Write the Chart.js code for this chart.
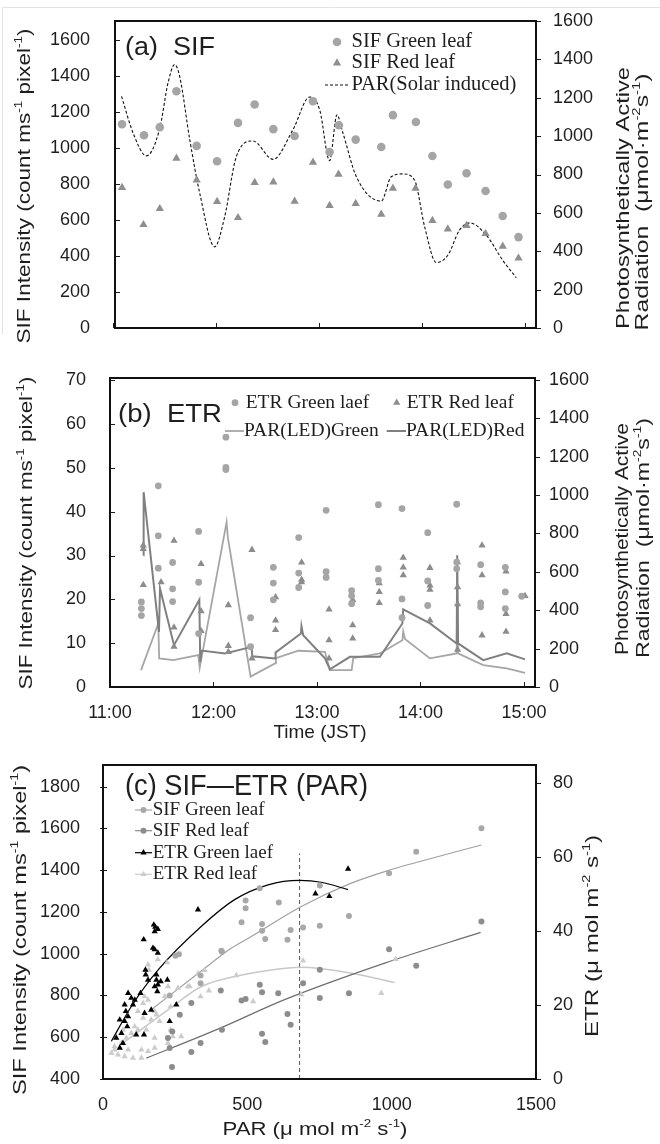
<!DOCTYPE html>
<html>
<head>
<meta charset="utf-8">
<script src="https://cdn.jsdelivr.net/npm/chart.js@4.4.1/dist/chart.umd.min.js"></script>
<style>
html, body { margin: 0; padding: 0; background: #fff; }
#wrap { position: relative; width: 660px; height: 1144px; }
canvas { position: absolute; left: 0; }
</style>
</head>
<body>
<div id="wrap">
  <canvas id="ca" width="660" height="345" style="top:0"></canvas>
  <canvas id="cb" width="660" height="400" style="top:345px"></canvas>
  <canvas id="cc" width="660" height="399" style="top:745px"></canvas>
</div>
<script>
// ---- data (time = minutes after 11:00) ----
const TIME_TICKS = [0, 60, 120, 180, 240];
const TIME_LABELS = ['11:00', '12:00', '13:00', '14:00', '15:00'];

// (a) SIF
const A_LEFT_TICKS = [0, 200, 400, 600, 800, 1000, 1200, 1400, 1600];
const A_RIGHT_TICKS = [0, 200, 400, 600, 800, 1000, 1200, 1400, 1600];
const A_SIF_GREEN = [[5.1,1132],[17.9,1071],[27.1,1116],[36.8,1316],[48.6,1012],[60.5,927],[72.7,1140],[82.4,1242],[93.3,1105],[105.7,1067],[116.4,1260],[126.1,978],[131.5,1127],[141.3,1047],[156.2,1006],[163,1183],[176.4,1145],[186,956],[195,797],[205.9,860],[217,761],[227,622],[236.2,505]];
const A_SIF_RED = [[5.1,780],[17.6,574],[27.1,663],[36.8,943],[48.6,822],[60.5,702],[72.7,613],[82.4,808],[93.3,811],[105.7,704],[116.4,921],[126.1,680],[131.3,854],[141.3,691],[156.2,632],[163,776],[176.2,776],[186,597],[195,550],[205.9,569],[217,524],[227,454],[236.2,388]];
const A_PAR = [[4.8,1207],[11.6,1015],[19.3,897],[27.1,1041],[31.9,1277],[35.8,1373],[38.7,1311],[44.6,980],[50.4,702],[59.1,423],[64.9,579],[71.7,893],[81.4,975],[93.1,879],[104.7,1033],[114.5,1204],[120.3,1137],[126.1,872],[130.4,1111],[133.9,1015],[141.7,788],[156.2,661],[162,788],[168.8,803],[175.6,771],[181.5,527],[188.3,341],[195,379],[201.8,510],[207.7,548],[217.4,484],[227,353],[234.9,262]];

// (b) ETR
const B_LEFT_TICKS = [0, 10, 20, 30, 40, 50, 60, 70];
const B_RIGHT_TICKS = [0, 200, 400, 600, 800, 1000, 1200, 1400, 1600];
const B_ETR_GREEN = [[18.2,19.4],[18.2,17.9],[18.2,16.3],[28,45.9],[28,34.5],[28,27.1],[36.3,28.4],[36.3,22.4],[36.3,19.5],[51.4,35.5],[51.4,23.9],[51.4,12.2],[67.2,57.0],[67.2,50.1],[67.2,49.6],[81.5,15.8],[81.5,9.2],[94.7,27.3],[94.7,23.7],[94.7,19.9],[109.4,34.1],[109.4,26.0],[109.4,22.7],[125.3,40.3],[125.3,26.3],[125.3,25.0],[140.1,22.0],[140.1,20.8],[140.1,19.0],[155.6,41.6],[155.6,27.0],[155.6,24.3],[169.3,40.7],[169.3,20.1],[169.3,15.8],[184.2,35.2],[184.2,24.2],[184.2,18.6],[201,41.7],[201,28.5],[201,27.0],[214.9,27.9],[214.9,19.2],[214.9,18.3],[229.2,27.3],[229.2,21.7],[229.2,17.9],[238.7,20.7]];
const B_ETR_RED = [[19.3,32.3],[19.3,31.5],[19.3,23.3],[29.6,23.9],[37.1,33.4],[37.1,13.6],[37.1,9.2],[52.8,28.1],[52.8,17.3],[52.8,12.8],[68.6,18.7],[68.6,9.4],[68.6,8.0],[82.3,31.3],[82.3,6.5],[96,20.5],[96,15.2],[96,13.0],[111.1,28.4],[111.1,24.5],[111.1,23.9],[127,17.7],[127,10.7],[127,6.5],[140.7,19.9],[140.7,14.1],[140.7,11.1],[156.1,23.7],[156.1,21.7],[156.1,19.2],[170,29.5],[170,27.3],[170,25.5],[185.5,27.2],[185.5,23.2],[185.5,22.2],[185.5,15.2],[201.5,28.5],[201.5,22.8],[201.5,18.9],[201.5,8.5],[215.7,32.3],[215.7,25.5],[215.7,11.8],[229.6,26.4],[229.6,16.7],[229.6,12.6],[240.6,20.8]];
const B_PAR_GREEN = [[18,88],[28,331],[28.5,149],[36.7,140],[51.2,166],[52,100],[67.6,859],[68.3,781],[81.5,54],[95.7,123],[96.2,150],[109.2,189],[124.6,183],[127.5,88],[140.1,88],[141,150],[156.5,175],[169.5,244],[170,290],[171,250],[185.5,149],[201,175],[201.3,500],[201.8,175],[216.4,114],[230,97],[240.6,74]];
const B_PAR_RED = [[19.3,686],[19.5,1015],[28.4,287],[29,513],[37.1,218],[51.8,455],[52.3,131],[53,190],[66.7,175],[82.1,209],[82.5,160],[95.7,149],[96,180],[110.7,279],[111,317],[112,270],[124.6,149],[127.5,92],[139.1,157],[156.5,157],[169.5,331],[170,404],[185.5,331],[201,227],[201.3,686],[201.8,227],[216.4,140],[230,175],[240.6,144]];

// (c) SIF - ETR (PAR)
const C_X_TICKS = [0, 500, 1000, 1500];
const C_LEFT_TICKS = [400, 600, 800, 1000, 1200, 1400, 1600, 1800];
const C_RIGHT_TICKS = [0, 20, 40, 60, 80];
const C_SIF_GREEN = [[231,800],[251,990],[263,997],[338,859],[338,896],[410,1014],[412,1010],[480,1151],[494,1218],[494,1255],[543,1314],[551,1110],[551,1143],[562,1071],[609,1245],[639,1067],[650,1114],[693,1126],[751,1134],[751,1327],[852,1181],[991,1386],[1085,1489],[1311,1601]];
const C_SIF_RED = [[225,596],[231,548],[239,457],[240,628],[266,708],[306,529],[306,764],[338,572],[408,824],[412,636],[480,776],[494,783],[543,851],[551,617],[551,816],[562,577],[607,811],[639,711],[650,660],[693,859],[751,788],[751,923],[852,811],[991,1022],[1085,942],[1311,1154]];
const C_ETR_GREEN = [[329,45.8],[176,41.7],[181,41.1],[190,40.5],[179,39.9],[141,37.7],[173,35.4],[179,35.0],[190,34.1],[147,29.5],[148,28.2],[156,26.8],[185,28.2],[185,26.8],[190,25.5],[179,25.0],[200,26.4],[188,23.7],[223,26.8],[87,23.2],[98,21.9],[130,23.2],[110,21.4],[75,20.1],[104,20.1],[144,17.8],[167,18.7],[254,20.1],[87,16.9],[75,15.6],[58,16.0],[84,14.2],[79,18.3],[231,15.6],[115,12.0],[142,12.0],[64,12.4],[69,9.7],[58,8.4],[46,11.1],[849,56.8],[736,50.1],[784,49.4]];
const C_ETR_RED = [[156,30.9],[222,31.5],[190,32.3],[159,29.5],[294,25.0],[260,24.6],[329,28.5],[352,29.4],[367,23.9],[338,22.3],[300,25.0],[462,28.0],[520,21.0],[144,22.3],[139,20.5],[156,21.4],[121,18.3],[139,16.5],[167,16.0],[185,17.4],[196,15.6],[234,19.6],[234,13.3],[271,11.5],[242,11.5],[225,9.7],[179,11.1],[150,13.3],[121,13.3],[98,12.4],[81,11.1],[64,9.7],[40,7.9],[29,7.0],[52,6.6],[75,6.1],[104,5.7],[133,5.7],[156,7.5],[179,8.4],[133,7.9],[87,7.9],[110,14.2],[69,13.3],[40,8.8],[179,18.3],[214,22.3],[225,25.0],[693,32.0],[1014,32.4],[964,23.2],[687,22.8]];
const C_TREND_SIF_GREEN = [[167,732],[329,905],[445,1027],[514,1083],[687,1226],[860,1338],[991,1400],[1085,1437],[1311,1521]];
const C_TREND_SIF_RED = [[150,500],[400,640],[629,780],[976,955],[1308,1102]];
const C_TREND_ETR_GREEN = [[29,10.2],[98,19.6],[191,29.5],[341,41.3],[456,48.5],[572,52.5],[681,53.7],[756,53.2],[849,51.2]];
const C_TREND_ETR_RED = [[69,9.7],[225,18.7],[341,25],[456,27.7],[583,29.5],[687,30.2],[860,28.6],[1010,26.1]];
const C_PAR_MARK = [[681,400],[681,1480]];

// ---- helpers ----
const SANS = "'Liberation Sans', Arial, sans-serif";
const SERIF = "'Liberation Serif', 'Times New Roman', serif";
const INK = '#1e1e1e';
const pts = arr => arr.map(p => ({ x: p[0], y: p[1] }));

// gap = distance between plot frame and tick labels; an invisible tick mark makes the room
function yScale(pos, min, max, ticks, gap, width) {
  return {
    type: 'linear', position: pos, min: min, max: max,
    afterBuildTicks: s => { s.ticks = ticks.map(v => ({ value: v })); },
    afterFit: s => { s.width = width; },
    grid: { display: true, drawOnChartArea: false, drawTicks: true, tickLength: gap - 1, color: 'rgba(0,0,0,0)' },
    border: { display: false },
    ticks: { font: { family: SANS, size: 18 }, color: INK, padding: 1, callback: v => String(v) }
  };
}

function xScale(min, max, ticks, labels, pad, height) {
  return {
    type: 'linear', position: 'bottom', min: min, max: max,
    afterBuildTicks: s => { s.ticks = ticks.map(v => ({ value: v })); },
    afterFit: s => { s.height = height; },
    grid: { display: false },
    border: { display: false },
    ticks: {
      display: !!labels, font: { family: SANS, size: 18 }, color: INK, padding: pad,
      maxRotation: 0, autoSkip: false,
      callback: (v, i) => labels ? labels[i] : ''
    }
  };
}

function parseRich(s) {
  const parts = [];
  const re = /\^\{([^}]*)\}/g;
  let last = 0, m;
  while ((m = re.exec(s))) {
    if (m.index > last) parts.push({ t: s.slice(last, m.index) });
    parts.push({ t: m[1], sup: true });
    last = re.lastIndex;
  }
  if (last < s.length) parts.push({ t: s.slice(last) });
  return parts;
}

function drawText(ctx, t) {
  const fam = t.family || SANS;
  const parts = parseRich(t.s);
  const sub = t.size * 0.6;
  let w = 0;
  parts.forEach(p => {
    ctx.font = (p.sup ? sub : t.size) + 'px ' + fam;
    p.w = ctx.measureText(p.t).width;
    w += p.w;
  });
  const k = t.len ? t.len / w : 1;
  ctx.save();
  ctx.translate(t.x, t.y);
  if (t.rot) ctx.rotate(t.rot * Math.PI / 180);
  ctx.scale(k, 1);
  ctx.fillStyle = t.color || INK;
  ctx.textBaseline = 'middle';
  ctx.textAlign = 'left';
  let x = t.align === 'left' ? 0 : -w / 2;
  parts.forEach(p => {
    ctx.font = (p.sup ? sub : t.size) + 'px ' + fam;
    ctx.fillText(p.t, x, p.sup ? -t.size * 0.32 : 0);
    x += p.w;
  });
  ctx.restore();
}

function drawMark(ctx, style, x, y, r, color) {
  ctx.fillStyle = color;
  ctx.beginPath();
  if (style === 'circle') {
    ctx.arc(x, y, r, 0, Math.PI * 2);
  } else {
    ctx.moveTo(x, y - r);
    ctx.lineTo(x + r * 0.866, y + r / 2);
    ctx.lineTo(x - r * 0.866, y + r / 2);
    ctx.closePath();
  }
  ctx.fill();
}

function drawLegendItem(ctx, l) {
  ctx.save();
  if (l.line) {
    ctx.strokeStyle = l.lineColor;
    ctx.lineWidth = l.lineWidth || 1.2;
    ctx.setLineDash(l.dash || []);
    ctx.beginPath();
    ctx.moveTo(l.line[0], l.y);
    ctx.lineTo(l.line[1], l.y);
    ctx.stroke();
    ctx.setLineDash([]);
  }
  if (l.mark) drawMark(ctx, l.mark, l.mx, l.y, l.r, l.color);
  ctx.restore();
  drawText(ctx, { s: l.text, x: l.tx, y: l.y, size: l.size, family: SERIF, align: 'left' });
}

const DECO = {};
Chart.register({
  id: 'deco',
  beforeDraw(chart) {
    const d = DECO[chart.canvas.id];
    if (!d || !d.frame) return;
    const ctx = chart.ctx;
    ctx.save();
    ctx.strokeStyle = '#e2e2e2';
    ctx.lineWidth = 1;
    ctx.beginPath();
    ctx.moveTo(2.5, 334);
    ctx.lineTo(2.5, 7.5);
    ctx.lineTo(660, 7.5);
    ctx.stroke();
    ctx.restore();
  },
  afterDatasetsDraw(chart) {
    const d = DECO[chart.canvas.id];
    if (!d) return;
    const ctx = chart.ctx, a = chart.chartArea;
    ctx.save();
    ctx.strokeStyle = INK;
    ctx.lineWidth = 1;
    d.marks.forEach(it => {
      const s = chart.scales[it.id];
      it.values.forEach(v => {
        const p = Math.round(s.getPixelForValue(v)) + 0.5;
        ctx.beginPath();
        if (it.id === 'x') { ctx.moveTo(p, a.bottom); ctx.lineTo(p, a.bottom - it.len); }
        else if (it.id === 'y1') { ctx.moveTo(a.right, p); ctx.lineTo(a.right + it.len, p); }
        else { ctx.moveTo(a.left - (it.out || 0), p); ctx.lineTo(a.left + it.len, p); }
        ctx.stroke();
      });
    });
    ctx.lineWidth = 2;
    ctx.strokeStyle = '#111';
    ctx.strokeRect(a.left, a.top, a.right - a.left, a.bottom - a.top);
    ctx.restore();
  },
  afterDraw(chart) {
    const d = DECO[chart.canvas.id];
    if (!d) return;
    d.texts.forEach(t => drawText(chart.ctx, t));
    d.legend.forEach(l => drawLegendItem(chart.ctx, l));
  }
});

function baseOptions(padTop, scales) {
  return {
    responsive: false, animation: false, events: [],
    layout: { padding: { top: padTop, left: 0, right: 0, bottom: 0 } },
    plugins: { legend: { display: false }, tooltip: { enabled: false } },
    scales: scales
  };
}

const LEFT_TITLE = 'SIF Intensity (count ms^{-1} pixel^{-1})';
const PAR_TITLE_1 = 'Photosynthetically Active';
const PAR_TITLE_2 = 'Radiation  (μmol·m^{-2}s^{-1})';

// ---- (a) ----
DECO.ca = {
  frame: true,
  marks: [
    { id: 'y', values: A_LEFT_TICKS, len: 5 },
    { id: 'x', values: TIME_TICKS, len: 5 },
    { id: 'y1', values: A_RIGHT_TICKS, len: 5 }
  ],
  texts: [
    { s: LEFT_TITLE, x: 25, y: 186, size: 19, rot: -90, len: 315 },
    { s: PAR_TITLE_1, x: 624, y: 198, size: 19, rot: -90, len: 262 },
    { s: PAR_TITLE_2, x: 643, y: 202, size: 19, rot: -90, len: 257 },
    { s: '(a)  SIF', x: 125, y: 48, size: 26, align: 'left', len: 90 }
  ],
  legend: [
    { y: 42, mark: 'circle', mx: 337, r: 4.3, color: '#a5a5a5', text: 'SIF Green leaf', tx: 351.5, size: 20.5 },
    { y: 63, mark: 'triangle', mx: 337, r: 4.8, color: '#8f8f8f', text: 'SIF Red leaf', tx: 351.5, size: 20.5 },
    { y: 85, line: [325, 350], lineColor: '#111', lineWidth: 1.1, dash: [3, 2], text: 'PAR(Solar induced)', tx: 351.5, size: 20.5 }
  ]
};
new Chart(document.getElementById('ca'), {
  type: 'scatter',
  data: { datasets: [
    { data: pts(A_SIF_GREEN), yAxisID: 'y', pointStyle: 'circle', pointRadius: 4.3, backgroundColor: '#a5a5a5', borderWidth: 0 },
    { data: pts(A_SIF_RED), yAxisID: 'y', pointStyle: 'triangle', pointRadius: 4.8, backgroundColor: '#8f8f8f', borderWidth: 0 },
    { data: pts(A_PAR), yAxisID: 'y1', showLine: true, pointRadius: 0, borderColor: '#111', borderWidth: 1.1, borderDash: [3, 2], cubicInterpolationMode: 'monotone' }
  ] },
  options: baseOptions(21, {
    x: xScale(1, 246.4, TIME_TICKS, null, 0, 17),
    y: yScale('left', 0, 1706, A_LEFT_TICKS, 25, 115),
    y1: yScale('right', 0, 1600, A_RIGHT_TICKS, 17, 124)
  })
});

// ---- (b) ----
DECO.cb = {
  marks: [
    { id: 'y', values: B_LEFT_TICKS, len: 5 },
    { id: 'x', values: TIME_TICKS, len: 5 },
    { id: 'y1', values: B_RIGHT_TICKS, len: 5 }
  ],
  texts: [
    { s: LEFT_TITLE, x: 27, y: 188, size: 19, rot: -90, len: 313 },
    { s: PAR_TITLE_1, x: 623, y: 194, size: 19, rot: -90, len: 232 },
    { s: PAR_TITLE_2, x: 644, y: 193, size: 19, rot: -90, len: 240 },
    { s: '(b)  ETR', x: 118, y: 70, size: 26, align: 'left', len: 104 },
    { s: 'Time (JST)', x: 320, y: 388, size: 19 }
  ],
  legend: [
    { y: 57.7, mark: 'circle', mx: 235, r: 3.4, color: '#a5a5a5', text: 'ETR Green laef', tx: 245.7, size: 19.5 },
    { y: 57.7, mark: 'triangle', mx: 396.7, r: 4.2, color: '#8c8c8c', text: 'ETR Red leaf', tx: 406.7, size: 19.5 },
    { y: 86, line: [225, 244], lineColor: '#a6a6a6', lineWidth: 1.8, text: 'PAR(LED)Green', tx: 244, size: 19.5 },
    { y: 86, line: [386.7, 406], lineColor: '#808080', lineWidth: 2, text: 'PAR(LED)Red', tx: 406, size: 19.5 }
  ]
};
new Chart(document.getElementById('cb'), {
  type: 'scatter',
  data: { datasets: [
    { data: pts(B_ETR_GREEN), yAxisID: 'y', pointStyle: 'circle', pointRadius: 3.4, backgroundColor: '#a5a5a5', borderWidth: 0 },
    { data: pts(B_ETR_RED), yAxisID: 'y', pointStyle: 'triangle', pointRadius: 4.2, backgroundColor: '#8c8c8c', borderWidth: 0 },
    { data: pts(B_PAR_RED), yAxisID: 'y1', showLine: true, pointRadius: 0, borderColor: '#808080', borderWidth: 2 },
    { data: pts(B_PAR_GREEN), yAxisID: 'y1', showLine: true, pointRadius: 0, borderColor: '#a6a6a6', borderWidth: 1.8 }
  ] },
  options: baseOptions(33, {
    x: xScale(0, 246.4, TIME_TICKS, TIME_LABELS, 7, 58),
    y: yScale('left', 0, 70.5, B_LEFT_TICKS, 24, 110),
    y1: yScale('right', 0, 1610, B_RIGHT_TICKS, 14, 125)
  })
});

// ---- (c) ----
DECO.cc = {
  marks: [
    { id: 'y', values: C_LEFT_TICKS, len: 4, out: 3 },
    { id: 'y1', values: C_RIGHT_TICKS, len: 5 }
  ],
  texts: [
    { s: LEFT_TITLE, x: 21, y: 185, size: 19, rot: -90, len: 330 },
    { s: 'ETR (μ mol m^{-2} s^{-1})', x: 593, y: 191, size: 19, rot: -90, len: 202 },
    { s: '(c) SIF—ETR (PAR)', x: 125, y: 41.7, size: 29, align: 'left', len: 243 },
    { s: 'PAR (μ mol m^{-2} s^{-1})', x: 315, y: 385, size: 19, len: 185 }
  ],
  legend: [
    { y: 65, line: [135, 152], lineColor: '#a8a8a8', mark: 'circle', mx: 143.5, r: 3, color: '#a8a8a8', text: 'SIF Green leaf', tx: 152.7, size: 19 },
    { y: 85.7, line: [135, 152], lineColor: '#8c8c8c', mark: 'circle', mx: 143.5, r: 3, color: '#8c8c8c', text: 'SIF Red leaf', tx: 152.7, size: 19 },
    { y: 107.7, line: [135, 152], lineColor: '#000', mark: 'triangle', mx: 143.5, r: 3.6, color: '#000', text: 'ETR Green laef', tx: 152.7, size: 19 },
    { y: 129.3, line: [135, 152], lineColor: '#cccccc', mark: 'triangle', mx: 143.5, r: 3.6, color: '#cccccc', text: 'ETR Red leaf', tx: 152.7, size: 19 }
  ]
};
new Chart(document.getElementById('cc'), {
  type: 'scatter',
  data: { datasets: [
    { data: pts(C_ETR_GREEN), yAxisID: 'y1', pointStyle: 'triangle', pointRadius: 3.6, backgroundColor: '#000', borderWidth: 0 },
    { data: pts(C_SIF_GREEN), yAxisID: 'y', pointStyle: 'circle', pointRadius: 3, backgroundColor: '#a8a8a8', borderWidth: 0 },
    { data: pts(C_SIF_RED), yAxisID: 'y', pointStyle: 'circle', pointRadius: 3, backgroundColor: '#8c8c8c', borderWidth: 0 },
    { data: pts(C_ETR_RED), yAxisID: 'y1', pointStyle: 'triangle', pointRadius: 3.6, backgroundColor: '#cccccc', borderWidth: 0 },
    { data: pts(C_TREND_ETR_GREEN), yAxisID: 'y1', showLine: true, pointRadius: 0, borderColor: '#000', borderWidth: 1.2, cubicInterpolationMode: 'monotone' },
    { data: pts(C_TREND_SIF_GREEN), yAxisID: 'y', showLine: true, pointRadius: 0, borderColor: '#a0a0a0', borderWidth: 1.2, cubicInterpolationMode: 'monotone' },
    { data: pts(C_TREND_SIF_RED), yAxisID: 'y', showLine: true, pointRadius: 0, borderColor: '#6e6e6e', borderWidth: 1.2, cubicInterpolationMode: 'monotone' },
    { data: pts(C_TREND_ETR_RED), yAxisID: 'y1', showLine: true, pointRadius: 0, borderColor: '#c8c8c8', borderWidth: 1.5, cubicInterpolationMode: 'monotone' },
    { data: pts(C_PAR_MARK), yAxisID: 'y', showLine: true, pointRadius: 0, borderColor: '#555', borderWidth: 1, borderDash: [4, 3] }
  ] },
  options: baseOptions(20, {
    x: xScale(0, 1500, C_X_TICKS, ['0', '500', '1000', '1500'], 7, 65),
    y: yScale('left', 400, 1904, C_LEFT_TICKS, 23, 103),
    y1: yScale('right', 0, 84.9, C_RIGHT_TICKS, 17, 124)
  })
});
</script>
</body>
</html>
